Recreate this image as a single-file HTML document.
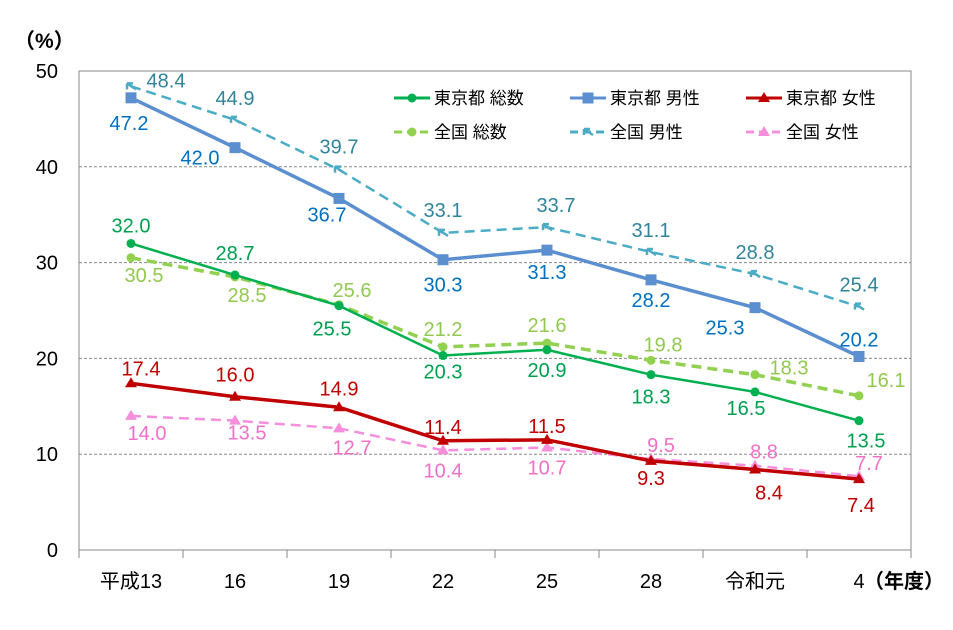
<!DOCTYPE html>
<html><head><meta charset="utf-8"><style>
body{margin:0;background:#fff;}
svg{display:block;font-family:"Liberation Sans","Noto Sans CJK JP",sans-serif;}
</style></head><body>
<svg id="c" width="953" height="630"></svg>
<script>
const categories=["平成13","16","19","22","25","28","令和元","4"];
const tokyoTotal=[32.0,28.7,25.5,20.3,20.9,18.3,16.5,13.5];
const tokyoMale=[47.2,42.0,36.7,30.3,31.3,28.2,25.3,20.2];
const tokyoFemale=[17.4,16.0,14.9,11.4,11.5,9.3,8.4,7.4];
const natTotal=[30.5,28.5,25.6,21.2,21.6,19.8,18.3,16.1];
const natMale=[48.4,44.9,39.7,33.1,33.7,31.1,28.8,25.4];
const natFemale=[14.0,13.5,12.7,10.4,10.7,9.5,8.8,7.7];
const yTicks=[0,10,20,30,40,50];

const NS="http://www.w3.org/2000/svg";
const svg=document.getElementById('c');
const L=79,R=911,T=71,B=550;
const cw=(R-L)/categories.length;
function x(i){return L+cw*(i+0.5);}
function y(v){return B-(v/50)*(B-T);}
function mk(tag,attrs,parent){const e=document.createElementNS(NS,tag);for(const k in attrs)e.setAttribute(k,attrs[k]);(parent||svg).appendChild(e);return e;}

yTicks.forEach(t=>{
  if(t>0&&t<50){const g=mk('line',{x1:L,x2:R,y1:y(t),y2:y(t),stroke:'#888','stroke-dasharray':'3,2','stroke-width':1});
  
  }
  const tl=mk('text',{x:58,y:y(t)+7,'text-anchor':'end','font-size':20,fill:'#000'});tl.textContent=t;
  
  
});
const frame=mk('rect',{x:L,y:T,width:R-L,height:B-T,fill:'none',stroke:'#888','stroke-width':1});


const yt=mk('text',{x:14,y:48,'font-size':21,'font-weight':'bold',fill:'#000'});yt.textContent='（%）';


for(let i=0;i<=categories.length;i++){mk('line',{x1:L+cw*i,x2:L+cw*i,y1:B,y2:B+8,stroke:'#888'});}
categories.forEach((c,i)=>{const t=mk('text',{x:x(i),y:588,'text-anchor':'middle','font-size':20,fill:'#000'});t.textContent=c;
 
 });
const xt=mk('text',{x:864,y:588,'font-size':20,'font-weight':'bold',fill:'#000'});xt.textContent='（年度）';



const series=[
 {name:'national-female',data:natFemale,color:'#f58fdc',lc:'#f070c8',w:2.5,dash:'10,6',marker:'tri',off:[[16,17],[12,12],[13,19],[0,20],[0,20],[10,-14],[9,-14],[10,-13]]},
 {name:'national-male',data:natMale,color:'#4bacc6',lc:'#31849b',w:2.5,dash:'10,6',marker:'arrow',off:[[35,-6],[0,-22],[0,-23],[0,-23],[9,-22],[0,-22],[0,-22],[0,-22]]},
 {name:'national-total',data:natTotal,color:'#92d050',lc:'#92c850',w:3.5,dash:'10,6',marker:'circle',off:[[13,17],[12,18],[13,-15],[0,-18],[0,-18],[12,-16],[34,-7],[27,-16]]},
 {name:'tokyo-female',data:tokyoFemale,color:'#c00000',lc:'#c00000',w:3.5,dash:null,marker:'tri',off:[[10,-15],[0,-22],[0,-19],[0,-14],[0,-14],[0,17],[14,23],[2,26]]},
 {name:'tokyo-male',data:tokyoMale,color:'#5b8fd0',lc:'#0070c0',w:3.5,dash:null,marker:'square',off:[[-2,25],[-35,10],[-12,16],[0,25],[0,22],[0,20],[-30,20],[0,-17]]},
 {name:'tokyo-total',data:tokyoTotal,color:'#00b050',lc:'#00a050',w:2.5,dash:null,marker:'circle',off:[[0,-18],[0,-22],[-7,23],[0,16],[0,20],[0,22],[-9,16],[7,20]]}
];
function marker(type,cx,cy,color,g){
 if(type==='circle')mk('circle',{cx,cy,r:4.5,fill:color},g);
 else if(type==='square')mk('rect',{x:cx-5.5,y:cy-5.5,width:11,height:11,fill:color},g);
 else if(type==='tri')mk('polygon',{points:`${cx},${cy-6} ${cx-6},${cy+4} ${cx+6},${cy+4}`,fill:color},g);
 else if(type==='arrow')mk('path',{d:`M${cx+5},${cy+3} L${cx-4},${cy-3} M${cx-4},${cy-3} l0,6 M${cx-4},${cy-3} l6,0`,stroke:color,'stroke-width':2.5,fill:'none'},g);
}
series.forEach(s=>{
 const g=mk('g',{});
 
 
 const p=mk('polyline',{points:s.data.map((v,i)=>x(i)+','+y(v)).join(' '),fill:'none',stroke:s.color,'stroke-width':s.w},g);
 if(s.dash)p.setAttribute('stroke-dasharray',s.dash);
 s.data.forEach((v,i)=>{marker(s.marker,x(i),y(v),s.color,g);
  const t=mk('text',{x:x(i)+s.off[i][0],y:y(v)+s.off[i][1]+7,'text-anchor':'middle','font-size':20,fill:s.lc},g);
  t.textContent=v.toFixed(1);
  
  
 });
});
const legend=[
 ['東京都 総数','#00b050',null,'circle',394,98],['東京都 男性','#5b8fd0',null,'square',570,98],['東京都 女性','#c00000',null,'tri',746,98],
 ['全国 総数','#92d050','8,5','circle',394,132],['全国 男性','#4bacc6','8,5','arrow',570,132],['全国 女性','#f58fdc','8,5','tri',746,132]];
legend.forEach(l=>{
 const g=mk('g',{});
 
 
 const ln=mk('line',{x1:l[4],x2:l[4]+36,y1:l[5],y2:l[5],stroke:l[1],'stroke-width':3},g);
 if(l[2])ln.setAttribute('stroke-dasharray',l[2]);
 marker(l[3],l[4]+18,l[5],l[1],g);
 const t=mk('text',{x:l[4]+40,y:l[5]+6,'font-size':17,fill:'#000'},g);t.textContent=l[0];
});
</script>
</body></html>
